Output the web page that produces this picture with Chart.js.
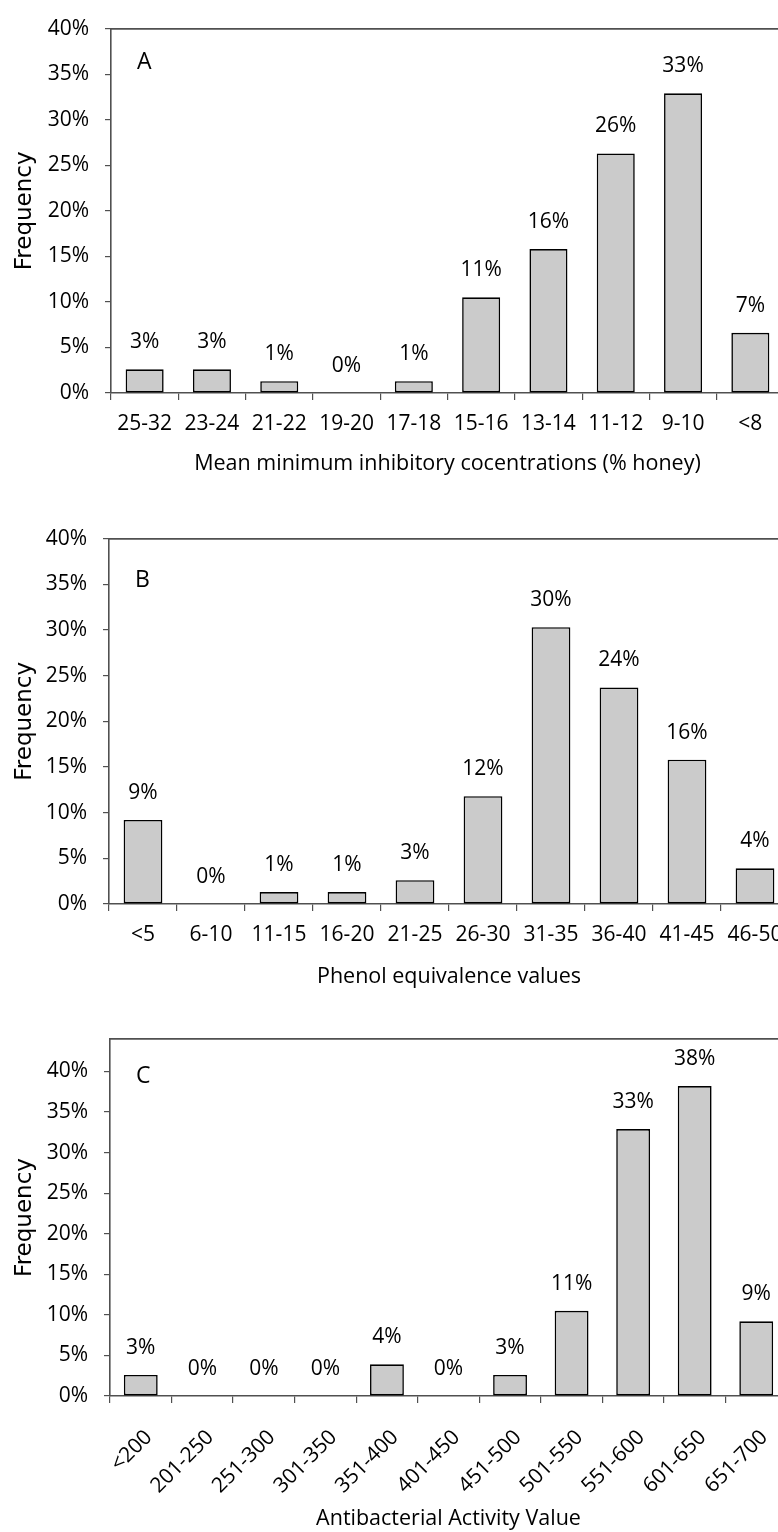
<!DOCTYPE html>
<html>
<head>
<meta charset="utf-8">
<script src="https://cdn.jsdelivr.net/npm/chart.js@4.4.1/dist/chart.umd.min.js"></script>
<style>
  html, body { margin: 0; padding: 0; background: #fff; overflow: hidden; width: 778px; height: 1532px; }
  canvas.panel { position: absolute; left: 0; }
</style>
</head>
<body>
<canvas id="chartA" class="panel" width="784" height="480" style="top:0px"></canvas>
<canvas id="chartB" class="panel" width="789" height="485" style="top:510px"></canvas>
<canvas id="chartC" class="panel" width="787" height="522" style="top:1010px"></canvas>
<script>
// Panel A: mean minimum inhibitory concentration bins (% of honeys)
const micLabels = ['25-32', '23-24', '21-22', '19-20', '17-18', '15-16', '13-14', '11-12', '9-10', '<8'];
const micFreq = [2.6, 2.6, 1.3, 0, 1.3, 10.5, 15.8, 26.3, 32.9, 6.6];

// Panel B: phenol equivalence bins
const phenolLabels = ['<5', '6-10', '11-15', '16-20', '21-25', '26-30', '31-35', '36-40', '41-45', '46-50'];
const phenolFreq = [9.2, 0, 1.3, 1.3, 2.6, 11.8, 30.3, 23.7, 15.8, 3.9];

// Panel C: antibacterial activity bins
const activityLabels = ['<200', '201-250', '251-300', '301-350', '351-400', '401-450', '451-500', '501-550', '551-600', '601-650', '651-700'];
const activityFreq = [2.6, 0, 0, 0, 3.9, 0, 2.6, 10.5, 32.9, 38.2, 9.2];

const AXIS = '#505050';
const TICK_FONT = { family: 'Open Sans', size: 21 };
const TITLE_FONT = { family: 'Open Sans', size: 21.5 };

// value text above every bar
const barValueLabels = {
  id: 'barValueLabels',
  afterDatasetsDraw(chart, args, opts) {
    const ctx = chart.ctx;
    const meta = chart.getDatasetMeta(0);
    const values = chart.data.datasets[0].data;
    ctx.save();
    ctx.font = '21px "Open Sans"';
    ctx.fillStyle = '#000';
    ctx.textAlign = 'center';
    ctx.textBaseline = 'middle';
    meta.data.forEach((bar, i) => {
      ctx.fillText(Math.round(values[i]) + '%', bar.x, bar.y - opts.gap);
    });
    ctx.restore();
  }
};

// panel letter in the upper-left corner of the plot
const panelTag = {
  id: 'panelTag',
  afterDraw(chart, args, opts) {
    const ctx = chart.ctx;
    const area = chart.chartArea;
    ctx.save();
    ctx.font = '23px "Open Sans"';
    ctx.fillStyle = '#000';
    ctx.textAlign = 'left';
    ctx.textBaseline = 'middle';
    ctx.fillText(opts.text, area.left + opts.dx, area.top + opts.dy);
    ctx.restore();
  }
};

function buildPanel(id, cfg) {
  return new Chart(document.getElementById(id), {
    type: 'bar',
    data: {
      labels: cfg.labels,
      datasets: [{
        data: cfg.values,
        xAxisID: 'x',
        yAxisID: 'y',
        backgroundColor: '#cbcbcb',
        borderColor: '#000',
        borderWidth: 1.6,
        borderSkipped: false,
        categoryPercentage: 1,
        barPercentage: cfg.barPct
      }]
    },
    options: {
      responsive: false,
      animation: false,
      layout: { padding: { top: cfg.padTop, left: 0, right: 0, bottom: 0 } },
      plugins: {
        legend: { display: false },
        tooltip: { enabled: false },
        barValueLabels: { gap: 27 },
        panelTag: { text: cfg.tag, dx: 26, dy: cfg.tagDy }
      },
      scales: {
        x: {
          type: 'category',
          position: 'bottom',
          offset: true,
          grid: { offset: true, drawOnChartArea: false, drawTicks: true, tickLength: 7, color: AXIS, lineWidth: 1.2 },
          border: { display: true, color: AXIS, width: 1.6 },
          ticks: {
            color: '#000', font: TICK_FONT, padding: cfg.xTickPad, autoSkip: false,
            maxRotation: cfg.rotation, minRotation: cfg.rotation, labelOffset: cfg.labelShift
          },
          title: {
            display: true, text: cfg.xTitle, color: '#000', font: TITLE_FONT,
            padding: { top: 0, bottom: cfg.titlePadBottom }
          },
          afterFit(scale) {
            scale.height = cfg.xHeight;
            scale.paddingLeft = 0;
            scale.paddingRight = 0;
          }
        },
        xTop: {
          type: 'category',
          position: 'top',
          offset: true,
          grid: { display: false, drawTicks: false },
          border: { display: true, color: AXIS, width: 1.8 },
          ticks: { display: false },
          afterFit(scale) { scale.height = 0; }
        },
        y: {
          type: 'linear',
          min: 0,
          max: cfg.yMax,
          grid: { drawOnChartArea: false, drawTicks: true, tickLength: 6, color: AXIS, lineWidth: 1.2 },
          border: { display: true, color: AXIS, width: 1.6 },
          ticks: {
            stepSize: 5, includeBounds: false, color: '#000', font: TICK_FONT, padding: 16,
            callback: v => v + '%'
          },
          title: {
            display: true, text: 'Frequency', color: '#000',
            font: { family: 'DejaVu Sans', size: 23 },
            padding: { top: 11, bottom: 0 }
          },
          afterFit(scale) { scale.width = cfg.yWidth; }
        }
      }
    },
    plugins: [barValueLabels, panelTag]
  });
}

buildPanel('chartA', {
  labels: micLabels, values: micFreq, tag: 'A', tagDy: 34,
  xTitle: 'Mean minimum inhibitory cocentrations (% honey)',
  barPct: 0.565, yMax: 40, padTop: 21, yWidth: 111,
  xHeight: 87, xTickPad: 11, titlePadBottom: 3, rotation: 0, labelShift: 0
});

buildPanel('chartB', {
  labels: phenolLabels, values: phenolFreq, tag: 'B', tagDy: 42,
  xTitle: 'Phenol equivalence values',
  barPct: 0.57, yMax: 40, padTop: 21, yWidth: 109,
  xHeight: 91, xTickPad: 11, titlePadBottom: 5, rotation: 0, labelShift: 0
});

buildPanel('chartC', {
  labels: activityLabels, values: activityFreq, tag: 'C', tagDy: 37,
  xTitle: 'Antibacterial Activity Value',
  barPct: 0.55, yMax: 44, padTop: 29, yWidth: 110,
  xHeight: 136, xTickPad: 22, titlePadBottom: 0, rotation: 45, labelShift: 8
});
</script>
</body>
</html>
